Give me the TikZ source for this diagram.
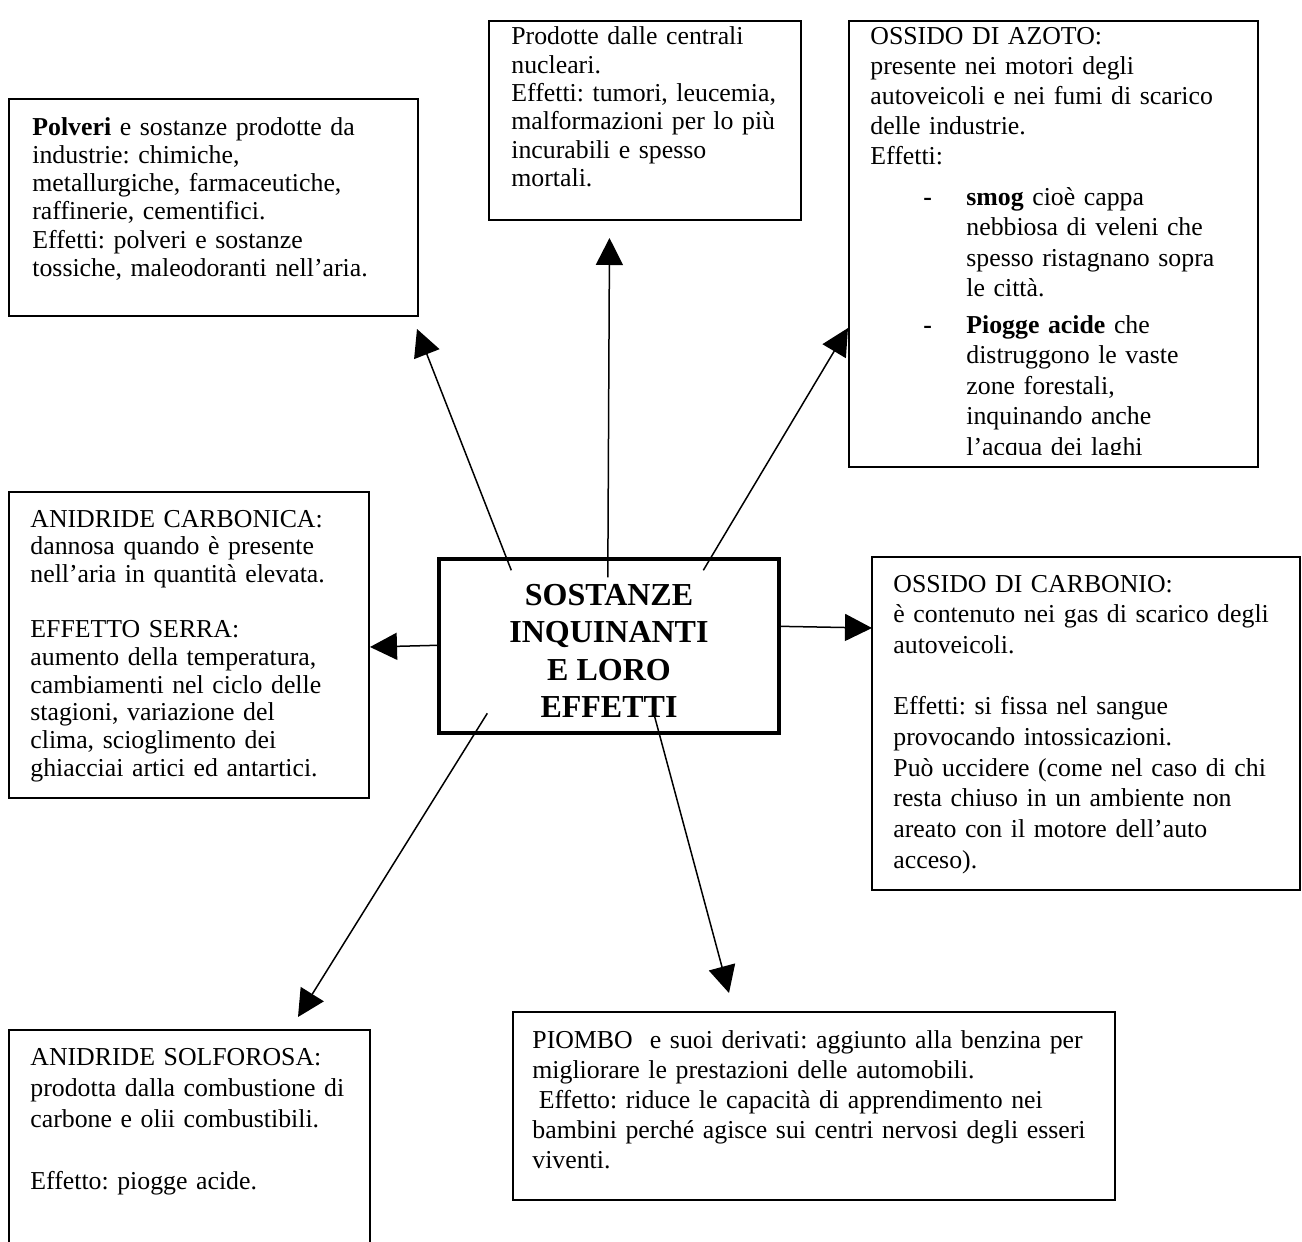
\documentclass[tikz,border=0pt]{standalone}
\usepackage{fontspec}
\setmainfont{Liberation Serif}
\usetikzlibrary{arrows.meta,fit,calc}
\frenchspacing
\tikzset{
  boxline/.style={draw=black, line width=1pt},
  box/.style={boxline, inner sep=0pt, fill=white},
  frame/.style={inner sep=0pt, draw=none},
  txt/.style={inner sep=0pt, anchor=base west, align=left, text width=260pt},
  arr/.style={line width=0.75pt, -{Triangle[length=13.5pt,width=13.5pt]}},
}
\newcommand{\fs}[1]{\fontsize{12.9}{#1}\selectfont}
\begin{document}
\begin{tikzpicture}[x=0.5pt,y=-0.5pt]
\useasboundingbox (0,0) rectangle (1302,1242);

% central box
\node[fit={(439,559) (779,733)}, inner sep=0pt, draw, line width=1.7pt] (K) {};
\node[align=center, inner sep=0pt, font=\fontsize{16}{18.65}\selectfont\bfseries] (Kt) at (609,651)
  {SOSTANZE\\INQUINANTI\\E LORO\\EFFETTI};

% arrow end points
\coordinate (sA) at ($(K.north west)+(74,13)$);
\coordinate (tA) at (417,329);
\coordinate (sB) at ($(K.north west)+(170.5,20)$);
\coordinate (tB) at (609.5,238);
\coordinate (sC) at ($(K.north west)+(266,13)$);
\coordinate (tC) at (848,328);
\coordinate (sD) at ($(K.north west)+(0,88)$);
\coordinate (tD) at (370,647);
\coordinate (sE) at ($(K.north east)+(-2,69)$);
\coordinate (tE) at (872,628);
\coordinate (sF) at ($(K.north west)+(50,156)$);
\coordinate (tF) at (298,1017);
\coordinate (sG) at ($(K.north west)+(217,158)$);
\coordinate (tG) at (729,993);

\draw[arr] (sA) -- (tA);
\draw[arr] (sB) -- (tB);
\draw[arr] (sC) -- (tC);
\draw[arr] (sD) -- (tD);
\draw[arr] (sE) -- (tE);
\draw[arr] (sF) -- (tF);
\draw[arr] (sG) -- (tG);

% Box A: Polveri
\node[box, fit={(9,99) (418,316)}] (A) {};
\node[txt, font=\fs{14.15}] (At) at (32,135)
  {\textbf{Polveri} e sostanze prodotte da\\
   industrie: chimiche,\\
   metallurgiche, farmaceutiche,\\
   raffinerie, cementifici.\\
   Effetti: polveri e sostanze\\
   tossiche, maleodoranti nell’aria.};

% Box B: nucleari
\node[box, fit={(489,21) (801,220)}] (B) {};
\node[txt, font=\fs{14.15}] (Bt) at (511,45)
  {Prodotte dalle centrali\\
   nucleari.\\
   Effetti: tumori, leucemia,\\
   malformazioni per lo più\\
   incurabili e spesso\\
   mortali.};

% Box C: ossido di azoto (text clipped)
\node[box, fit={(849,21) (1258,467)}] (C) {};
\begin{scope}
  \clip (849,21) rectangle (1258,454);
  \node[txt, font=\fs{15}] (Ct) at (870,45)
    {OSSIDO DI AZOTO:\\
     presente nei motori degli\\
     autoveicoli e nei fumi di scarico\\
     delle industrie.\\
     Effetti:};
  \node[inner sep=0pt, anchor=base west, font=\fs{15}\bfseries] (Cd1) at (923,205) {-};
  \node[txt, font=\fs{15.25}] (Cb1) at (966,205)
    {\textbf{smog} cioè cappa\\
     nebbiosa di veleni che\\
     spesso ristagnano sopra\\
     le città.};
  \node[inner sep=0pt, anchor=base west, font=\fs{15}\bfseries] (Cd2) at (923,333) {-};
  \node[txt, font=\fs{15.25}] (Cb2) at (966,333)
    {\textbf{Piogge acide} che\\
     distruggono le vaste\\
     zone forestali,\\
     inquinando anche\\
     l’acqua dei laghi};
\end{scope}

% Box D: anidride carbonica
\node[box, fit={(9,492) (369,798)}] (D) {};
\node[txt, font=\fs{13.85}] (Dt) at (30,527)
  {ANIDRIDE CARBONICA:\\
   dannosa quando è presente\\
   nell’aria in quantità elevata.\\[13.85pt]
   EFFETTO SERRA:\\
   aumento della temperatura,\\
   cambiamenti nel ciclo delle\\
   stagioni, variazione del\\
   clima, scioglimento dei\\
   ghiacciai artici ed antartici.};

% Box E: ossido di carbonio
\node[box, fit={(872,557) (1300,890)}] (E) {};
\node[txt, font=\fs{15.35}] (Et) at (893,592)
  {OSSIDO DI CARBONIO:\\
   è contenuto nei gas di scarico degli\\
   autoveicoli.\\[15.35pt]
   Effetti: si fissa nel sangue\\
   provocando intossicazioni.\\
   Può uccidere (come nel caso di chi\\
   resta chiuso in un ambiente non\\
   areato con il motore dell’auto\\
   acceso).};

% Box F: anidride solforosa (open at bottom)
\node[frame, fit={(9,1030) (370,1260)}] (F) {};
\draw[boxline] (F.south west) |- (F.north east) -- (F.south east);
\node[txt, font=\fs{15.5}] (Ft) at (30,1065)
  {ANIDRIDE SOLFOROSA:\\
   prodotta dalla combustione di\\
   carbone e olii combustibili.\\[15.5pt]
   Effetto: piogge acide.};

% Box G: piombo
\node[box, fit={(513,1012) (1115,1200)}] (G) {};
\node[txt, font=\fs{15}, text width=290pt] (Gt) at (532,1048)
  {PIOMBO\ \ e suoi derivati: aggiunto alla benzina per\\
   migliorare le prestazioni delle automobili.\\
   \hspace*{0.25em}Effetto: riduce le capacità di apprendimento nei\\
   bambini perché agisce sui centri nervosi degli esseri\\
   viventi.};
\end{tikzpicture}
\end{document}
